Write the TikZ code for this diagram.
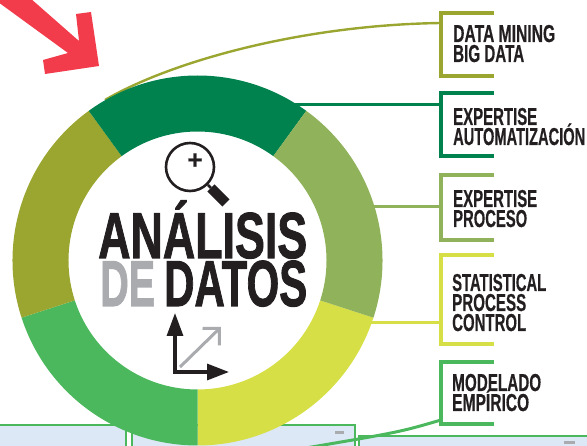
\documentclass[tikz,border=0pt]{standalone}
\usepackage{fontspec}
\usepackage{graphicx}
\setmainfont{Liberation Sans}[BoldFeatures={FakeBold=0.6}]
\newfontfamily\titlefont{Liberation Sans}[BoldFeatures={FakeBold=1.6}]
\usetikzlibrary{arrows.meta}

\definecolor{colMining}{HTML}{9AA62F}
\definecolor{colExpert}{HTML}{00824F}
\definecolor{colProceso}{HTML}{8FB25A}
\definecolor{colSpc}{HTML}{D6DF45}
\definecolor{colModel}{HTML}{4CB85E}
\definecolor{colRed}{HTML}{F23B4B}
\definecolor{colInk}{HTML}{231F20}
\definecolor{colGrey}{HTML}{A9ABAE}
\definecolor{colPanel}{HTML}{DCE8F6}

\newcommand{\narrowtext}[2]{\resizebox{#1pt}{\height}{\bfseries #2}}

\tikzset{
    lbl/.style={anchor=base west, inner sep=0pt, text=colInk, font=\fontsize{24.5}{24.5}\selectfont},
    big/.style={anchor=base west, inner sep=0pt, text=colInk, font=\titlefont\fontsize{65}{65}\selectfont},
    link/.style={line width=3pt},
    panel/.style={fill=colPanel, draw=colModel, line width=2pt}
}

\begin{document}
\begin{tikzpicture}[x=1pt, y=-1pt]
    \useasboundingbox (0,0) rectangle (587,446);
    \clip (0,0) rectangle (587,446);

    % Draw panels along the bottom
    \draw[panel] (-5,425) -- (126,425) -- (126,450) -- (-5,450) -- cycle;
    \draw[panel] (132,450) -- (132,425) -- (355,425) -- (355,450) -- cycle;
    \draw[panel] (359,450) -- (359,436) -- (592,436) -- (592,450) -- cycle;
    \fill[colGrey] (335,431) rectangle (344,434);
    \fill[colGrey] (564,441) rectangle (575,444);

    % Draw connectors
    \coordinate (ringMining) at (105,100);
    \coordinate (ringExpert) at (295,105);
    \coordinate (ringProceso) at (368,207);
    \coordinate (ringSpc) at (365,323);
    \coordinate (endMining) at (441,23);
    \coordinate (endExpert) at (441,105);
    \coordinate (endProceso) at (441,207);
    \coordinate (endSpc) at (441,323);
    \coordinate (endModel) at (441,420);
    \coordinate (offModel) at (300,449);
    \draw[colMining, line width=2.4pt] (ringMining) .. controls (170,62) and (300,25) .. (endMining);
    \draw[colExpert, link] (ringExpert) -- (endExpert);
    \draw[colProceso, link] (ringProceso) -- (endProceso);
    \draw[colSpc, link] (ringSpc) -- (endSpc);
    \draw[colModel, line width=3pt] (endModel) .. controls (400,432) .. (offModel);

    % Draw ring
    \begin{scope}[shift={(197.5,260.5)}]
        \foreach \from/\to/\col in {18/90/colSpc, 90/162/colModel, 162/234/colMining, 234/306/colExpert, 306/378/colProceso}
            \fill[\col] (\from:185) arc[start angle=\from, end angle=\to, radius=185]
                -- (\to:129) arc[start angle=\to, end angle=\from, radius=129] -- cycle;
    \end{scope}

    % Draw brackets
    \foreach \name/\top/\bot/\col in {mining/13/76/colMining, expert/93/156/colExpert, proceso/175/240/colProceso, spc/255/344/colSpc, model/362/424/colModel} {
        \coordinate (\name a) at (494,\top);
        \coordinate (\name b) at (441,\top);
        \coordinate (\name c) at (441,\bot);
        \coordinate (\name d) at (494,\bot);
        \draw[\col, line width=3.4pt] (\name a) -- (\name b) -- (\name c) -- (\name d);
    }

    % Draw labels
    \node[lbl] (mining1) at (453,42) {\narrowtext{102}{DATA MINING}};
    \node[lbl] (mining2) at (453,62) {\narrowtext{71}{BIG DATA}};
    \node[lbl] (expert1) at (453,125) {\narrowtext{84}{EXPERTISE}};
    \node[lbl] (expert2) at (453,145) {\narrowtext{132}{AUTOMATIZACIÓN}};
    \node[lbl] (proceso1) at (453,207) {\narrowtext{84}{EXPERTISE}};
    \node[lbl] (proceso2) at (453,227) {\narrowtext{74}{PROCESO}};
    \node[lbl] (spc1) at (452,291) {\narrowtext{94}{STATISTICAL}};
    \node[lbl] (spc2) at (452,311) {\narrowtext{74}{PROCESS}};
    \node[lbl] (spc3) at (452,331) {\narrowtext{74}{CONTROL}};
    \node[lbl] (model1) at (452,391) {\narrowtext{89}{MODELADO}};
    \node[lbl] (model2) at (452,411) {\narrowtext{77}{EMPÍRICO}};

    % Draw title
    \node[big] (titleA) at (98,258) {\narrowtext{209}{ANÁLISIS}};
    \node[big, text=colGrey] (titleB) at (100,306) {\narrowtext{55}{DE}};
    \node[big] (titleC) at (164,306) {\narrowtext{143}{DATOS}};

    % Draw red arrow
    \fill[colRed] (99,66) -- (91,12) -- (76,14) -- (79,41) -- (30,-2) -- (-2,-2) -- (-2,2)
        -- (68,53) -- (43,60) -- (45,74) -- cycle;

    % Draw magnifier
    \node[draw=colInk, circle, line width=2.6pt, minimum size=48pt, inner sep=0pt] (lens) at (190,167) {};
    \node[inner sep=0pt, text=colInk, font=\fontsize{26}{26}\bfseries\selectfont] (plus) at (195,161) {+};
    \coordinate (handleA) at (211,188);
    \coordinate (handleB) at (226,203);
    \draw[colInk, line width=2.6pt] (lens.-45) -- (handleA);
    \draw[colInk, line width=10pt] (handleA) -- (handleB);

    % Draw axes
    \coordinate (origin) at (175,372);
    \coordinate (axisY) at (175,313);
    \coordinate (axisX) at (229,372);
    \coordinate (diagA) at (180,367);
    \coordinate (diagB) at (221,327);
    \draw[colGrey, line width=3pt, -{Straight Barb[length=12pt, width=24pt, line width=3pt]}] (diagA) -- (diagB);
    \draw[colInk, line width=3.2pt, -{Triangle[length=23pt, width=16pt]}] (origin) ++(0,1.6) -- (axisY);
    \draw[colInk, line width=3.2pt, -{Triangle[length=22pt, width=16pt]}] (origin) -- (axisX);
\end{tikzpicture}
\end{document}
